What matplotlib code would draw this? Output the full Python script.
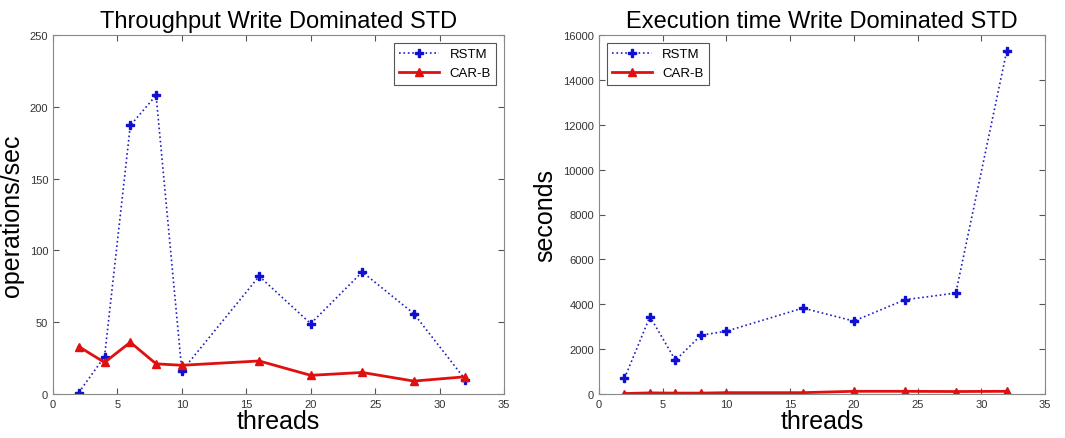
import matplotlib
matplotlib.use("Agg")
import matplotlib.pyplot as plt

plt.rcParams["font.family"] = ["Liberation Sans", "DejaVu Sans"]

threads = [2, 4, 6, 8, 10, 16, 20, 24, 28, 32]
thr_rstm = [1, 26, 187, 208, 16, 82, 49, 85, 56, 10]
thr_carb = [33, 22, 36, 21, 20, 23, 13, 15, 9, 12]
time_rstm = [700, 3450, 1500, 2620, 2800, 3830, 3250, 4200, 4500, 15300]
time_carb = [20, 50, 40, 40, 60, 60, 120, 120, 110, 120]

fig = plt.figure(figsize=(10.65, 4.39), dpi=100)
ax1 = fig.add_axes([53 / 1065, 1 - 395 / 439, 451 / 1065, 359 / 439])
ax2 = fig.add_axes([599 / 1065, 1 - 395 / 439, 446 / 1065, 359 / 439])


def style(ax, title, ylabel, ylim, yticks, legloc):
    ax.set_xlim(0, 35)
    ax.set_ylim(*ylim)
    ax.set_xticks(range(0, 36, 5))
    ax.set_yticks(yticks)
    ax.tick_params(direction="in", top=True, right=True, labelsize=8,
                   color="#555555", labelcolor="#333333", length=4)
    for s in ax.spines.values():
        s.set_color("#888888")
    ax.set_title(title, fontsize=17, pad=6)
    ax.set_xlabel("threads", fontsize=18, labelpad=0)
    ax.set_ylabel(ylabel, fontsize=18, labelpad=4)
    leg = ax.legend(loc=legloc, fontsize=9.5, fancybox=False, framealpha=1,
                    edgecolor="#555555", handlelength=3, borderaxespad=0.6)
    leg.get_frame().set_linewidth(0.8)


for ax, rstm, carb in [(ax1, thr_rstm, thr_carb), (ax2, time_rstm, time_carb)]:
    ax.plot(threads, rstm, color="#2020c0", linestyle=":", linewidth=1.2,
            marker="P", markersize=6, markerfacecolor="#1010d0",
            markeredgecolor="#1010d0", label="RSTM")
    ax.plot(threads, carb, color="#e01010", linestyle="-", linewidth=2,
            marker="^", markersize=6, markerfacecolor="#e01010",
            markeredgecolor="#e01010", label="CAR-B")

style(ax1, "Throughput Write Dominated STD", "operations/sec", (0, 250),
      range(0, 251, 50), "upper right")
style(ax2, "Execution time Write Dominated STD", "seconds", (0, 16000),
      range(0, 16001, 2000), "upper left")

fig.savefig("out.png", dpi=100)
